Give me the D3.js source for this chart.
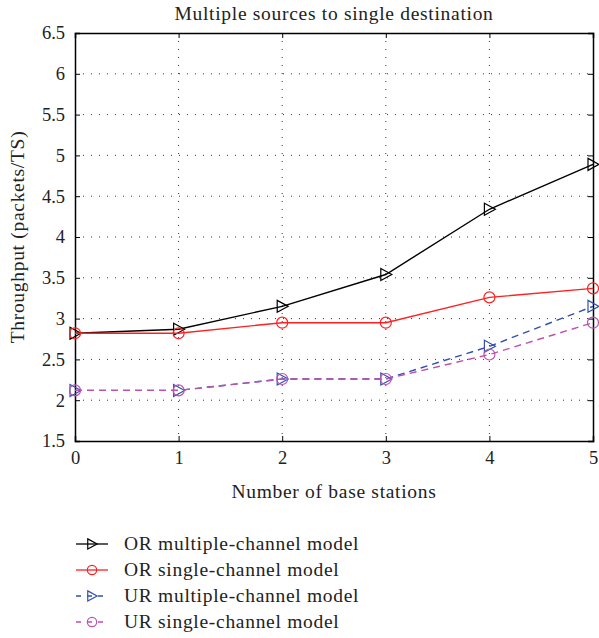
<!DOCTYPE html>
<html><head><meta charset="utf-8">
<script src="https://cdn.jsdelivr.net/npm/d3@7"></script>
<style>body{margin:0;background:#fff}svg{display:block}text{font-family:"Liberation Serif","DejaVu Serif",serif;fill:#222}</style>
</head><body><svg id="c" width="599" height="638"></svg>
<script>
const xs = [0,1,2,3,4,5];
const orMulti = [2.82,2.87,3.15,3.54,4.34,4.89];
const orSingle = [2.82,2.82,2.95,2.95,3.26,3.37];
const urMulti = [2.12,2.12,2.26,2.26,2.66,3.15];
const urSingle = [2.12,2.12,2.26,2.26,2.56,2.95];
const xTicks = [0,1,2,3,4,5];
const yTicks = [1.5,2,2.5,3,3.5,4,4.5,5,5.5,6,6.5];
const seriesNames = ["OR multiple-channel model","OR single-channel model","UR multiple-channel model","UR single-channel model"];

const series = [
  {name:seriesNames[0], vals:orMulti, color:"#000", dash:null, marker:"tri"},
  {name:seriesNames[1], vals:orSingle, color:"#ff2020", dash:null, marker:"circ"},
  {name:seriesNames[2], vals:urMulti, color:"#3050b0", dash:"7,5", marker:"tri"},
  {name:seriesNames[3], vals:urSingle, color:"#c050b0", dash:"7,5", marker:"circ"}
];

const FS = "19.5px", LS = "0.7px";
const svg = d3.select("#c");
const L=75,R=593,T=33,B=441;
const x = d3.scaleLinear().domain([0,5]).range([L,R]);
const y = d3.scaleLinear().domain([1.5,6.5]).range([B,T]);

// grid
const g = svg.append("g");
g.selectAll(".gx").data(xTicks.slice(1,-1)).join("line")
  .attr("x1",d=>x(d)).attr("x2",d=>x(d)).attr("y1",T).attr("y2",B)
  .attr("stroke","#333").attr("stroke-width",1).attr("stroke-dasharray","1,7");
g.selectAll(".gy").data(yTicks.slice(1,-1)).join("line")
  .attr("x1",L).attr("x2",R).attr("y1",d=>y(d)).attr("y2",d=>y(d))
  .attr("stroke","#333").attr("stroke-width",1).attr("stroke-dasharray","1,7");

// axes
const ax = svg.append("g").attr("transform",`translate(0,${B})`)
  .call(d3.axisBottom(x).tickValues(xTicks).tickSize(-5).tickPadding(10).tickFormat(d3.format("d")));
const ay = svg.append("g").attr("transform",`translate(${L},0)`)
  .call(d3.axisLeft(y).tickValues(yTicks).tickSize(-5).tickPadding(10).tickFormat(d=>String(d)));
const axTop = svg.append("g").attr("transform",`translate(0,${T})`)
  .call(d3.axisTop(x).tickValues(xTicks).tickSize(-5).tickFormat(""));
const ayR = svg.append("g").attr("transform",`translate(${R},0)`)
  .call(d3.axisRight(y).tickValues(yTicks).tickSize(-5).tickFormat(""));
[ax,ay,axTop,ayR].forEach(a=>{
  a.attr("font-family",null);
  a.selectAll("path").attr("stroke","#000").attr("stroke-width",1.5);
  a.selectAll("line").attr("stroke","#000");
  a.selectAll("text").style("font-size","18.5px").attr("fill","#222").style("font-family",'"Liberation Serif",serif');
});

const line = d3.line().x((d,i)=>x(xs[i])).y(d=>y(d));
function marker(sel, type, color, k){
  k = k||1;
  if(type==="tri"){
    sel.append("path").attr("d",`M${-5*k},${-6*k} L${6*k},0 L${-5*k},${6*k} Z`).attr("fill","none").attr("stroke",color).attr("stroke-width",1.2);
  } else {
    sel.append("circle").attr("r",5.5*k).attr("fill","none").attr("stroke",color).attr("stroke-width",1.2);
  }
}
series.forEach(s=>{
  svg.append("path").datum(s.vals).attr("d",line).attr("fill","none")
    .attr("stroke",s.color).attr("stroke-width",1.4).attr("stroke-dasharray",s.dash);
  s.vals.forEach((v,i)=>{
    const m = svg.append("g").attr("transform",`translate(${x(xs[i])},${y(v)})`);
    marker(m,s.marker,s.color);
  });
});

// title & labels
function label(t){ return t.style("font-size",FS).style("letter-spacing",LS); }
label(svg.append("text").attr("x",(L+R)/2).attr("y",20).attr("text-anchor","middle")).text("Multiple sources to single destination");
label(svg.append("text").attr("x",(L+R)/2).attr("y",498).attr("text-anchor","middle")).text("Number of base stations");
label(svg.append("text").attr("transform",`translate(24,${(T+B)/2}) rotate(-90)`).attr("text-anchor","middle")).text("Throughput (packets/TS)");

// legend
series.forEach((s,i)=>{
  const yy = 544 + i*26;
  svg.append("line").attr("x1",76).attr("x2",108).attr("y1",yy).attr("y2",yy)
    .attr("stroke",s.color).attr("stroke-width",1.3).attr("stroke-dasharray",s.dash?"5,6":null);
  const m = svg.append("g").attr("transform",`translate(92,${yy})`);
  marker(m,s.marker,s.color,0.85);
  label(svg.append("text").attr("x",124).attr("y",yy+6)).text(s.name);
});
</script></body></html>
